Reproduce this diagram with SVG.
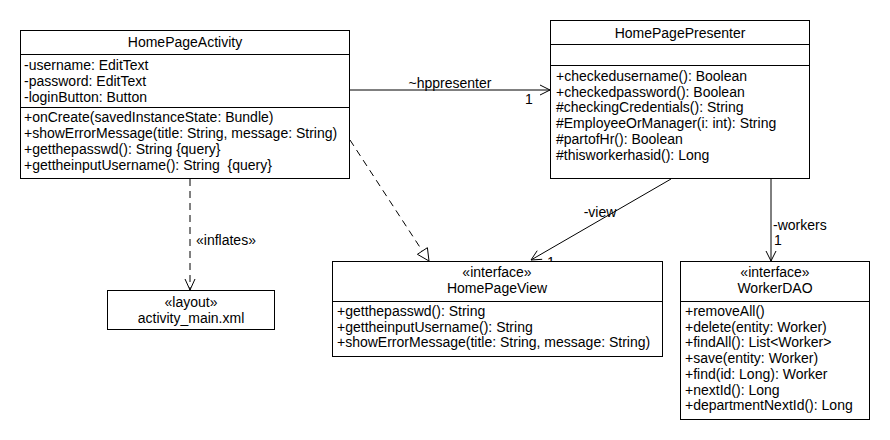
<svg xmlns="http://www.w3.org/2000/svg" width="890" height="440" viewBox="0 0 890 440">
<style>
text{font-family:"Liberation Sans",Arial,sans-serif;font-size:14px;fill:#000}
.c{text-anchor:middle}
.box{fill:#fff;stroke:#000;stroke-width:1}
.ln{stroke:#000;stroke-width:1;fill:none}
.dash{stroke:#000;stroke-width:1;fill:none;stroke-dasharray:7,5}
</style>
<rect width="890" height="440" fill="#fff"/>
<g id="connectors">
<line class="ln" x1="349" y1="90" x2="550" y2="90"/>
<polyline class="ln" points="540,85 550,90 540,95"/>
<text class="c" x="450" y="88">~hppresenter</text>
<text class="c" x="529" y="104">1</text>
<line class="dash" x1="190" y1="179" x2="190" y2="290"/>
<polyline class="ln" points="185,279 190,290 195,279"/>
<text x="196" y="245">«inflates»</text>
<line class="dash" x1="350" y1="140" x2="422.4" y2="251"/>
<polygon class="box" points="427.4,247.7 429,261 417.4,254.3"/>
<line class="ln" x1="671" y1="179" x2="531" y2="260"/>
<polyline class="ln" points="542.2,259.3 531,260 537.2,250.7"/>
<text class="c" x="600" y="217">-view</text>
<text class="c" x="551" y="267">1</text>
<line class="ln" x1="771" y1="179" x2="771" y2="261"/>
<polyline class="ln" points="766,251 771,261 776,251"/>
<text x="773" y="230">-workers</text>
<text x="774" y="245">1</text>
</g>
<g id="HomePageActivity">
<rect class="box" x="20.5" y="30.5" width="329" height="148"/>
<line class="ln" x1="20.5" y1="54.5" x2="349.5" y2="54.5"/>
<line class="ln" x1="20.5" y1="107.5" x2="349.5" y2="107.5"/>
<text class="c" x="185" y="47">HomePageActivity</text>
<text x="24" y="70">-username: EditText</text>
<text x="24" y="86">-password: EditText</text>
<text x="24" y="102">-loginButton: Button</text>
<text x="24" y="122">+onCreate(savedInstanceState: Bundle)</text>
<text x="24" y="138">+showErrorMessage(title: String, message: String)</text>
<text x="24" y="154">+getthepasswd(): String {query}</text>
<text x="24" y="170" xml:space="preserve" style="white-space:pre">+gettheinputUsername(): String  {query}</text>
</g>
<g id="HomePagePresenter">
<rect class="box" x="550.5" y="20.5" width="259" height="158"/>
<line class="ln" x1="550.5" y1="44.5" x2="809.5" y2="44.5"/>
<line class="ln" x1="550.5" y1="65.5" x2="809.5" y2="65.5"/>
<text class="c" x="680" y="38">HomePagePresenter</text>
<text x="556" y="81">+checkedusername(): Boolean</text>
<text x="556" y="97">+checkedpassword(): Boolean</text>
<text x="556" y="112">#checkingCredentials(): String</text>
<text x="556" y="128">#EmployeeOrManager(i: int): String</text>
<text x="556" y="144">#partofHr(): Boolean</text>
<text x="556" y="160">#thisworkerhasid(): Long</text>
</g>
<g id="activity_main">
<rect class="box" x="107.5" y="290.5" width="167" height="39"/>
<text class="c" x="191" y="307">«layout»</text>
<text class="c" x="191" y="323">activity_main.xml</text>
</g>
<g id="HomePageView">
<rect class="box" x="332.5" y="261.5" width="330" height="95"/>
<line class="ln" x1="332.5" y1="301.5" x2="662.5" y2="301.5"/>
<text class="c" x="497" y="277">«interface»</text>
<text class="c" x="497" y="293">HomePageView</text>
<text x="337" y="316">+getthepasswd(): String</text>
<text x="337" y="332">+gettheinputUsername(): String</text>
<text x="337" y="347">+showErrorMessage(title: String, message: String)</text>
</g>
<g id="WorkerDAO">
<rect class="box" x="680.5" y="261.5" width="189" height="158"/>
<line class="ln" x1="680.5" y1="301.5" x2="869.5" y2="301.5"/>
<text class="c" x="775" y="277">«interface»</text>
<text class="c" x="775" y="293">WorkerDAO</text>
<text x="685" y="316">+removeAll()</text>
<text x="685" y="332">+delete(entity: Worker)</text>
<text x="685" y="347">+findAll(): List&lt;Worker&gt;</text>
<text x="685" y="363">+save(entity: Worker)</text>
<text x="685" y="379">+find(id: Long): Worker</text>
<text x="685" y="395">+nextId(): Long</text>
<text x="685" y="410">+departmentNextId(): Long</text>
</g>
</svg>
